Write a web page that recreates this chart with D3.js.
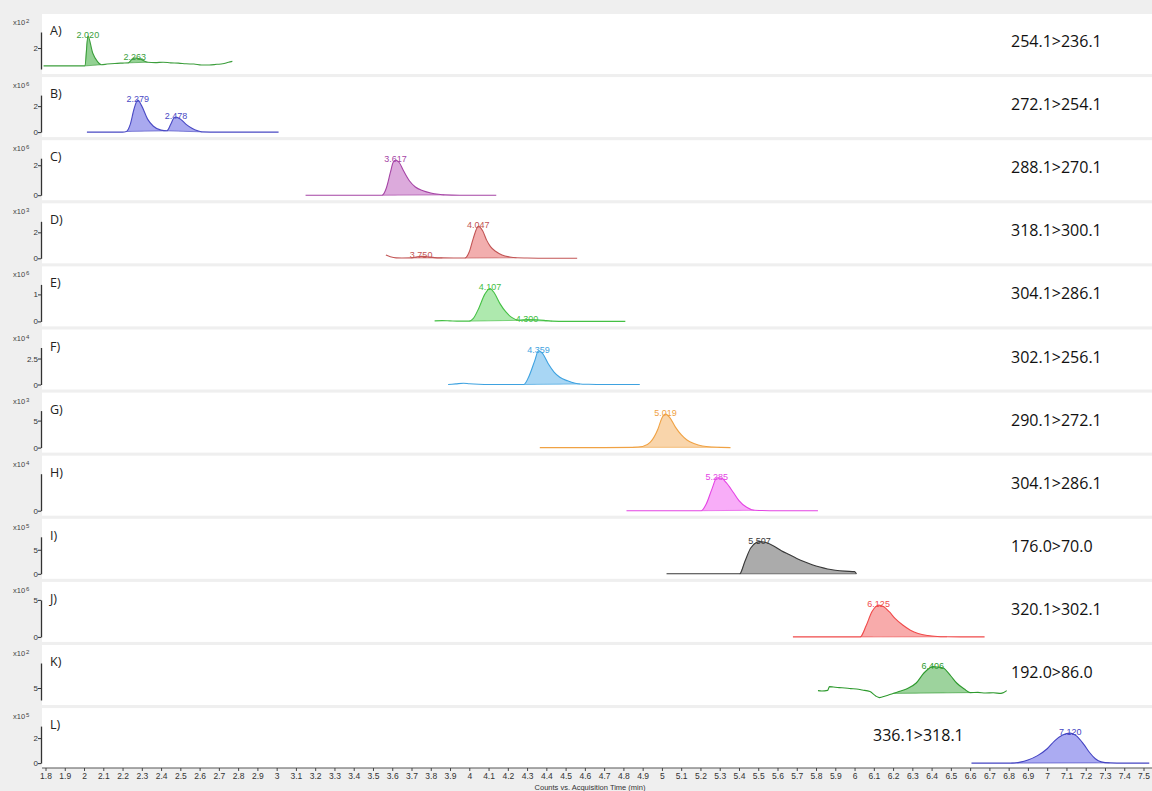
<!DOCTYPE html>
<html><head><meta charset="utf-8">
<script src="https://cdn.jsdelivr.net/npm/d3@7"></script>
<style>body{margin:0;background:#efefef;}svg{display:block}</style>
</head><body><svg id="c" width="1152" height="791"></svg>
<script>
// ---------- DATA ----------
const panelLetters = ["A)","B)","C)","D)","E)","F)","G)","H)","I)","J)","K)","L)"];
const transitions = ["254.1>236.1","272.1>254.1","288.1>270.1","318.1>300.1","304.1>286.1","302.1>256.1","290.1>272.1","304.1>286.1","176.0>70.0","320.1>302.1","192.0>86.0","336.1>318.1"];
const exponents = ["2","6","6","3","6","4","3","4","5","6","2","5"];
const yDomains = [[0.3,3.3],[0,2.85],[0,2.47],[0,2.85],[0,1.37],[0,3.56],[0,6.85],[0,4.4],[0,7.7],[0,5],[4.4,6.25],[0,2.96]];
const yTicks = [[2],[0,2],[0,2],[0,2],[0,1],[0,2.5],[0,5],[0],[0,5],[0,5],[5],[0,2]];
const xTickValues = [1.8,1.9,2,2.1,2.2,2.3,2.4,2.5,2.6,2.7,2.8,2.9,3,3.1,3.2,3.3,3.4,3.5,3.6,3.7,3.8,3.9,4,4.1,4.2,4.3,4.4,4.5,4.6,4.7,4.8,4.9,5,5.1,5.2,5.3,5.4,5.5,5.6,5.7,5.8,5.9,6,6.1,6.2,6.3,6.4,6.5,6.6,6.7,6.8,6.9,7,7.1,7.2,7.3,7.4,7.5];
const xTitle = "Counts vs. Acquisition Time (min)";

const traceA = [[1.79,0.55],[1.9,0.55],[2.005,0.55],[2.02,2.97],[2.045,1.6],[2.07,0.9],[2.09,0.65],[2.12,0.7],[2.16,0.75],[2.2,0.78],[2.23,0.8],[2.25,1.1],[2.265,1.19],[2.29,1.12],[2.33,0.85],[2.37,0.82],[2.41,0.85],[2.45,0.8],[2.49,0.78],[2.53,0.72],[2.57,0.7],[2.61,0.62],[2.65,0.62],[2.69,0.68],[2.72,0.72],[2.75,0.85],[2.77,0.92]];
const traceB = [[2.015,0],[2.1,0],[2.2,0],[2.22,0.05],[2.24,0.6],[2.26,1.8],[2.279,2.46],[2.3,2.0],[2.33,1.0],[2.36,0.45],[2.4,0.15],[2.43,0.1],[2.45,0.6],[2.465,1.05],[2.478,1.15],[2.5,1.0],[2.53,0.6],[2.56,0.3],[2.59,0.1],[2.61,0.02],[2.7,0],[2.9,0],[3.01,0]];
const traceC = [[3.15,0],[3.4,0],[3.547,0],[3.57,0.5],[3.59,1.5],[3.605,2.2],[3.617,2.33],[3.635,2.2],[3.66,1.6],[3.69,0.95],[3.72,0.55],[3.76,0.3],[3.8,0.15],[3.84,0.06],[3.87,0.02],[3.95,0],[4.14,0]];
const traceD = [[3.567,0.25],[3.59,0.12],[3.62,0.03],[3.65,0.02],[3.7,0.03],[3.73,0.12],[3.75,0.15],[3.78,0.12],[3.82,0.05],[3.86,0.03],[3.92,0.02],[3.977,0.02],[4.0,0.5],[4.02,1.5],[4.047,2.46],[4.07,2.1],[4.09,1.4],[4.11,0.9],[4.14,0.5],[4.17,0.25],[4.21,0.1],[4.245,0.04],[4.3,0.02],[4.4,0],[4.56,0]];
const traceE = [[3.82,0.02],[3.86,0.03],[3.9,0.02],[3.95,0.01],[4.0,0.01],[4.02,0.1],[4.05,0.5],[4.08,1.0],[4.107,1.22],[4.13,1.05],[4.16,0.65],[4.19,0.35],[4.22,0.15],[4.26,0.04],[4.3,0.07],[4.35,0.06],[4.4,0.03],[4.43,0.01],[4.5,0],[4.7,0],[4.81,0]];
const traceF = [[3.89,0],[3.93,0.06],[3.97,0.12],[4.0,0.07],[4.05,0.02],[4.1,0],[4.2,0],[4.283,0],[4.31,0.8],[4.34,2.3],[4.359,3.25],[4.38,3.0],[4.41,2.0],[4.44,1.2],[4.47,0.7],[4.51,0.35],[4.55,0.12],[4.575,0.05],[4.62,0.02],[4.7,0],[4.885,0]];
const traceG = [[4.366,0],[4.5,0],[4.7,0],[4.85,0.05],[4.9,0.2],[4.94,1.0],[4.98,3.5],[5.0,5.5],[5.019,6.2],[5.04,5.6],[5.07,3.8],[5.1,2.4],[5.13,1.4],[5.17,0.7],[5.21,0.3],[5.26,0.1],[5.3,0.05],[5.356,0]];
const traceH = [[4.816,0],[4.9,0],[5.0,0],[5.1,0],[5.205,0],[5.23,0.8],[5.26,2.6],[5.285,3.9],[5.31,3.85],[5.335,3.3],[5.37,2.2],[5.4,1.2],[5.44,0.4],[5.48,0.05],[5.6,0],[5.81,0]];
const traceI = [[5.024,0],[5.2,0],[5.404,0],[5.43,2.5],[5.46,5.3],[5.49,6.5],[5.507,6.7],[5.54,6.5],[5.58,5.8],[5.62,4.8],[5.66,4.0],[5.7,3.2],[5.74,2.5],[5.78,1.9],[5.82,1.4],[5.86,1.0],[5.9,0.75],[5.95,0.55],[6.0,0.45],[6.01,0]];
const traceJ = [[5.68,0],[5.9,0],[6.03,0],[6.06,1.5],[6.09,3.4],[6.11,4.1],[6.125,4.3],[6.15,4.1],[6.18,3.4],[6.21,2.5],[6.25,1.6],[6.29,0.9],[6.33,0.45],[6.38,0.18],[6.43,0.06],[6.48,0.02],[6.55,0],[6.675,0]];
const traceK = [[5.81,4.87],[5.83,4.85],[5.86,4.88],[5.87,5.07],[5.89,5.05],[5.92,5.02],[5.95,5.0],[5.98,4.97],[6.01,4.95],[6.04,4.9],[6.08,4.82],[6.11,4.6],[6.13,4.52],[6.16,4.6],[6.2,4.73],[6.24,4.85],[6.28,5.0],[6.32,5.25],[6.36,5.75],[6.39,6.0],[6.406,6.07],[6.43,6.05],[6.46,6.0],[6.5,5.6],[6.53,5.25],[6.57,4.95],[6.6,4.77],[6.64,4.78],[6.68,4.75],[6.72,4.76],[6.76,4.73],[6.79,4.87]];
const traceL = [[6.607,0],[6.7,0],[6.814,0],[6.86,0.08],[6.9,0.25],[6.95,0.6],[7.0,1.15],[7.04,1.8],[7.08,2.25],[7.12,2.4],[7.15,2.2],[7.19,1.5],[7.22,0.85],[7.25,0.35],[7.28,0.1],[7.324,0.02],[7.4,0],[7.53,0]];

const fillsA = [[2.005,2.09],[2.23,2.33]];
const fillsB = [[2.22,2.43],[2.43,2.61]];
const fillsC = [[3.547,3.87]];
const fillsD = [[3.7,3.86],[3.977,4.245]];
const fillsE = [[4.0,4.26],[4.26,4.43]];
const fillsF = [[4.283,4.575]];
const fillsG = [[4.85,5.3]];
const fillsH = [[5.205,5.48]];
const fillsI = [[5.404,6.01]];
const fillsJ = [[6.03,6.48]];
const fillsK = [[6.2,6.6]];
const fillsL = [[6.814,7.324]];

const peaksA = [[2.020,"2.020"],[2.263,"2.263"]];
const peaksB = [[2.279,"2.279"],[2.478,"2.478"]];
const peaksC = [[3.617,"3.617"]];
const peaksD = [[3.750,"3.750"],[4.047,"4.047"]];
const peaksE = [[4.107,"4.107"],[4.300,"4.300"]];
const peaksF = [[4.359,"4.359"]];
const peaksG = [[5.019,"5.019"]];
const peaksH = [[5.285,"5.285"]];
const peaksI = [[5.507,"5.507"]];
const peaksJ = [[6.125,"6.125"]];
const peaksK = [[6.406,"6.406"]];
const peaksL = [[7.120,"7.120"]];

const lineColors = ["#3c9e3c","#4a4ac4","#a544a5","#c25555","#44c044","#3ea2e0","#f0a244","#e444e4","#383838","#f04a4a","#2e9a2e","#4444c2"];
const fillColors = ["#93d193","#a9a9ef","#dcaadc","#f2aeae","#aee9ae","#a8d6f4","#f9d5ab","#f8adf8","#ababab","#f8abab","#9dd39d","#ababf2"];

const traces = [traceA,traceB,traceC,traceD,traceE,traceF,traceG,traceH,traceI,traceJ,traceK,traceL];
const fills = [fillsA,fillsB,fillsC,fillsD,fillsE,fillsF,fillsG,fillsH,fillsI,fillsJ,fillsK,fillsL];
const peaks = [peaksA,peaksB,peaksC,peaksD,peaksE,peaksF,peaksG,peaksH,peaksI,peaksJ,peaksK,peaksL];

// ---------- DRAW ----------
const W = 1152, H = 791;
const svg = d3.select("#c");
svg.append("rect").attr("width", W).attr("height", H).attr("fill", "#efefef");
const x = d3.scaleLinear().domain([1.8, 7.5]).range([45.5, 1143.5]);
const base0 = 69, step = 63.1;

function interp(tr, t) {
  for (let k = 0; k < tr.length - 1; k++) {
    const a = tr[k], b = tr[k + 1];
    if (t >= a[0] && t <= b[0]) return a[1] + (b[1] - a[1]) * (t - a[0]) / (b[0] - a[0]);
  }
  return tr[tr.length - 1][1];
}

traces.forEach((tr, i) => {
  const b = base0 + step * i;
  const g = svg.append("g");
  g.append("rect").attr("x", 42).attr("y", b - 55).attr("width", W - 42).attr("height", 60).attr("fill", "#ffffff");
  const y = d3.scaleLinear().domain(yDomains[i]).range([b, b - 37]);

  fills[i].forEach(([s, e]) => {
    const ys = interp(tr, s), ye = interp(tr, e);
    const pts = [[s, ys]].concat(tr.filter(d => d[0] > s && d[0] < e)).concat([[e, ye]]);
    const area = d3.area().curve(d3.curveMonotoneX)
      .x(d => x(d[0]))
      .y0(d => y(ys + (ye - ys) * (d[0] - s) / (e - s)))
      .y1(d => y(d[1]));
    g.append("path").attr("d", area(pts)).attr("fill", fillColors[i]).attr("stroke", "none");
    g.append("line").attr("x1", x(s)).attr("x2", x(e)).attr("y1", y(ys)).attr("y2", y(ye))
      .attr("stroke", lineColors[i]).attr("stroke-width", 0.8).attr("opacity", 0.8);
  });

  const line = d3.line().curve(d3.curveMonotoneX).x(d => x(d[0])).y(d => y(d[1]));
  g.append("path").attr("d", line(tr)).attr("fill", "none").attr("stroke", lineColors[i]).attr("stroke-width", 1.1);

  peaks[i].forEach(([t, txt]) => {
    const near = tr.filter(d => Math.abs(d[0] - t) < 0.03);
    const mv = d3.max(near, d => d[1]);
    g.append("text").attr("x", x(t)).attr("y", y(mv) + 2).attr("text-anchor", "middle")
      .attr("font-family", "Liberation Sans, Arial, sans-serif").attr("font-size", 9)
      .attr("fill", lineColors[i]).text(txt);
  });

  g.append("text").attr("x", 50).attr("y", b - 34).attr("font-family", "Open Sans, sans-serif")
    .attr("font-size", 12.5).attr("fill", "#222").text(panelLetters[i]);

  g.append("text").attr("x", i === 11 ? 873 : 1011).attr("y", b - 22)
    .attr("font-family", "Open Sans, sans-serif").attr("font-size", 16).attr("fill", "#111")
    .text(transitions[i]);

  const ax = g.append("g").attr("transform", "translate(41,0)")
    .call(d3.axisLeft(y).tickValues(yTicks[i]).tickSize(3).tickSizeOuter(0).tickFormat(d => String(d)));
  ax.select(".domain").attr("stroke", "#333").attr("stroke-width", 1.3);
  ax.selectAll(".tick line").attr("stroke", "#333");
  ax.selectAll(".tick text").attr("font-family", "Liberation Sans, Arial, sans-serif").attr("font-size", 8).attr("fill", "#333").attr("x", -3);

  const ex = g.append("text").attr("x", 13).attr("y", b - 44).attr("font-family", "Liberation Sans, Arial, sans-serif")
    .attr("font-size", 7.5).attr("fill", "#444");
  ex.append("tspan").text("x10");
  ex.append("tspan").attr("dx", 1).attr("dy", -2).attr("font-size", 6).text(exponents[i]);
});

const axisY = 768;
svg.append("line").attr("x1", 42).attr("x2", W).attr("y1", axisY).attr("y2", axisY).attr("stroke", "#555").attr("stroke-width", 1);
const xa = svg.append("g").attr("transform", `translate(0,${axisY})`)
  .call(d3.axisBottom(x).tickValues(xTickValues).tickSize(3).tickSizeOuter(0).tickFormat(d => String(d)));
xa.select(".domain").remove();
xa.selectAll(".tick line").attr("stroke", "#444");
xa.selectAll(".tick text").attr("font-family", "Liberation Sans Narrow, Liberation Sans, Arial, sans-serif").attr("font-size", 8.5).attr("fill", "#333").attr("dy", "0.55em");
svg.append("text").attr("x", 590).attr("y", 790).attr("text-anchor", "middle")
  .attr("font-family", "Liberation Sans, Arial, sans-serif").attr("font-size", 7.5).attr("fill", "#333").text(xTitle);
</script></body></html>
